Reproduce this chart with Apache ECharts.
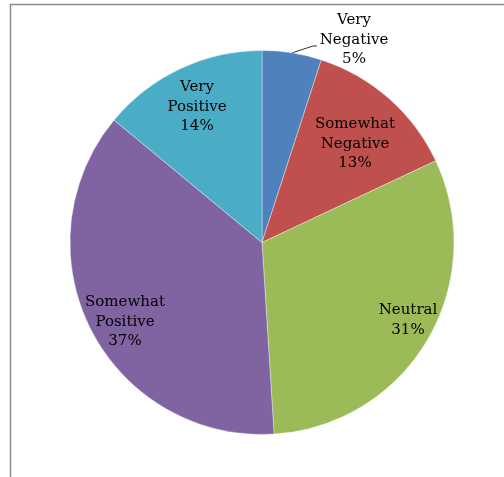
<!DOCTYPE html>
<html>
<head>
<meta charset="utf-8">
<script src="https://cdn.jsdelivr.net/npm/echarts@6/dist/echarts.min.js"></script>
<style>
  html, body { margin: 0; padding: 0; background: #fff; }
  #chart { width: 504px; height: 477px; }
</style>
</head>
<body>
<div id="chart"></div>
<script>
// Sentiment breakdown, clockwise from 12 o'clock
const categories = ['Very Negative', 'Somewhat Negative', 'Neutral', 'Somewhat Positive', 'Very Positive'];
const shares = [5, 13, 31, 37, 14];
const colors = ['#4F81BD', '#C0504D', '#9BBB59', '#8064A2', '#4BACC6'];

// Pie geometry and label anchors (px)
const CX = 262, CY = 242.5, R = 192;
const labelAnchors = [[354, 40], [355, 144], [408, 320], [125, 322], [197, 107]];

const total = shares.reduce((a, b) => a + b, 0);
function midAngle(i) {
  let before = 0;
  for (let k = 0; k < i; k++) before += shares[k];
  return ((before + shares[i] / 2) / total) * Math.PI * 2;
}

const chart = echarts.init(document.getElementById('chart'), null, { renderer: 'canvas' });

chart.setOption({
  animation: false,
  graphic: [{
    type: 'polyline',
    shape: { points: [[10.5, 477], [10.5, 4.5], [504, 4.5]] },
    style: { stroke: '#8c8c8c', lineWidth: 1.5, fill: null },
    silent: true
  }],
  series: [{
    type: 'pie',
    center: [CX, CY],
    radius: R,
    startAngle: 90,
    clockwise: true,
    avoidLabelOverlap: false,
    itemStyle: { borderColor: 'rgba(255,255,255,0.6)', borderWidth: 0.6 },
    label: {
      position: 'inside',
      formatter: p => p.name.replace(' ', '\n') + '\n' + p.value + '%',
      fontFamily: 'DejaVu Serif',
      fontSize: 15,
      lineHeight: 19.5,
      color: '#000',
      align: 'center'
    },
    labelLine: { show: false },
    labelLayout: function (params) {
      const i = params.dataIndex;
      const a = labelAnchors[i];
      const out = { x: a[0], y: a[1], align: 'center', verticalAlign: 'middle' };
      if (i === 0) {
        const t = midAngle(i);
        const sx = CX + R * Math.sin(t), sy = CY - R * Math.cos(t);
        out.labelLinePoints = [[sx, sy], [a[0] - 41, a[1] + 6], [a[0] - 37, a[1] + 6]];
      }
      return out;
    },
    data: categories.map((name, i) => ({
      name: name,
      value: shares[i],
      itemStyle: { color: colors[i] },
      label: i === 0 ? { position: 'outside' } : undefined,
      labelLine: i === 0 ? { show: true, lineStyle: { color: '#303030', width: 1 } } : undefined
    }))
  }]
});
</script>
</body>
</html>
